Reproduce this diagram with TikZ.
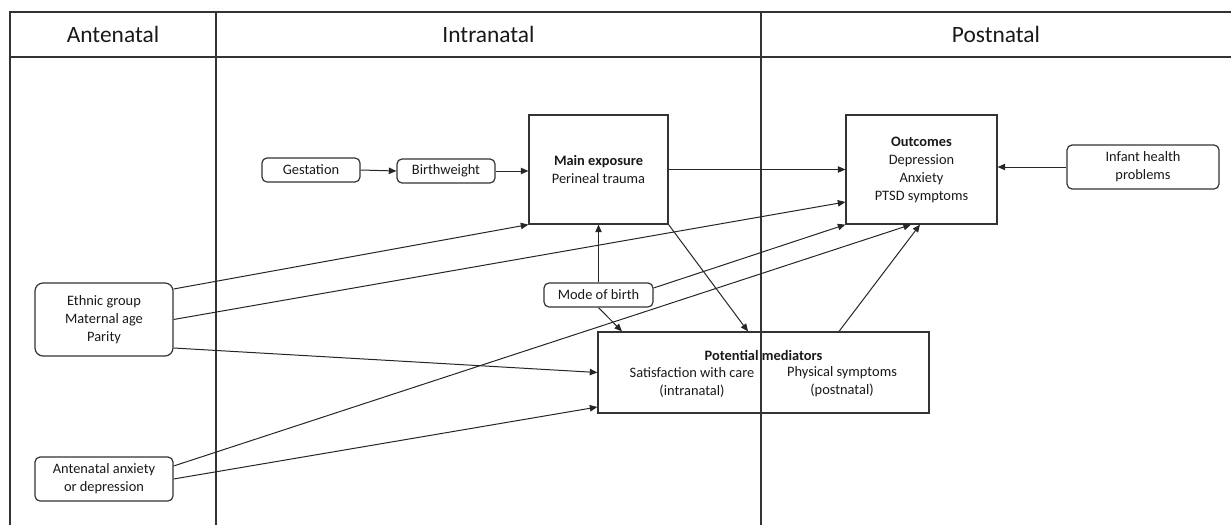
\documentclass[tikz,border=0pt]{standalone}
\usepackage{fontspec}
\setmainfont{Carlito}
\usetikzlibrary{arrows.meta}
\begin{document}
\begin{tikzpicture}[x=0.5pt,y=-0.5pt,
  tab/.style={draw=black!80,line width=0.7pt},
  hdr/.style={font=\fontsize{11.7}{14}\selectfont,text=black!90},
  box/.style={draw=black!80,line width=0.6pt,inner sep=0pt,align=center,
    font=\fontsize{7.2}{9}\selectfont,text=black!90},
  rbox/.style={box,rounded corners=2.5pt},
  txt/.style={inner sep=0pt,align=center,font=\fontsize{7.2}{9}\selectfont,text=black!90},
  arr/.style={draw=black!85,line width=0.5pt,-{Triangle[length=3.8pt,width=3.2pt]}},
  ln/.style={draw=black!85,line width=0.5pt}]
\useasboundingbox (0,0) rectangle (1231,525);
% table
\draw[tab] (10,525) -- (10,12) -- (1231,12);
\draw[tab] (10,57) -- (1231,57);
\draw[tab] (216,12) -- (216,525);
\draw[tab] (761,12) -- (761,525);
\node[hdr] (hA) at (113,34) {Antenatal};
\node[hdr] (hI) at (488.5,34) {Intranatal};
\node[hdr] (hP) at (996,34) {Postnatal};
% nodes
\node[rbox,minimum width=49pt,minimum height=12pt] (gest) at (311,170) {Gestation};
\node[rbox,minimum width=49pt,minimum height=12pt] (birth) at (446,171) {Birthweight};
\node[box,minimum width=69.5pt,minimum height=54.5pt] (main) at (598.5,169.5) {\textbf{Main exposure}\\Perineal trauma};
\node[box,minimum width=75.5pt,minimum height=54.5pt] (out) at (921.5,169.5) {\textbf{Outcomes}\\Depression\\Anxiety\\PTSD symptoms};
\node[rbox,minimum width=76pt,minimum height=22pt] (infant) at (1143,167) {Infant health\\problems};
\node[box,rounded corners=4pt,minimum width=69pt,minimum height=36.5pt] (ethnic) at (104,319.5) {Ethnic group\\Maternal age\\Parity};
\node[rbox,minimum width=69pt,minimum height=22pt] (anx) at (104,479) {Antenatal anxiety\\or depression};
\node[rbox,minimum width=54.5pt,minimum height=12pt] (mode) at (598.5,295) {Mode of birth};
\node[box,minimum width=165.5pt,minimum height=40.5pt] (med) at (763.5,372.5) {};
\node[txt,font=\fontsize{7.2}{9}\selectfont\bfseries] (medt) at (763.5,355) {Potential mediators};
\node[txt] (medl) at (692,382) {Satisfaction with care\\(intranatal)};
\node[txt] (medr) at (842,382) {Physical symptoms\\(postnatal)};
% connectors
\draw[arr] (gest.east) -- (birth.west);
\draw[arr] (birth.east) -- (birth.east -| main.west);
\draw[arr] (main.east) -- (main.east -| out.west);
\draw[arr] (infant.west) -- (infant.west -| out.east);
\draw[arr] (mode.north) -- (main.south);
\draw[arr] ([yshift=15.25pt]ethnic.east) -- (main.south west);
\draw[arr] (ethnic.east) -- ([yshift=-16.25pt]out.west);
\draw[arr] ([yshift=-14.25pt]ethnic.east) -- (med.west);
\draw[arr] ([yshift=6.5pt]anx.east) -- ([xshift=-5.25pt]out.south);
\draw[arr] (anx.east) -- ([yshift=-17.25pt]med.west);
\draw[arr] ([yshift=3.5pt]mode.east) -- (out.south west);
\draw[arr] (mode.south) -- ([xshift=-70.75pt]med.north);
\draw[arr] (main.south east) -- ([xshift=-7.75pt]med.north);
\draw[arr] ([xshift=37.75pt]med.north) -- ([xshift=-0.75pt]out.south);
\end{tikzpicture}
\end{document}
